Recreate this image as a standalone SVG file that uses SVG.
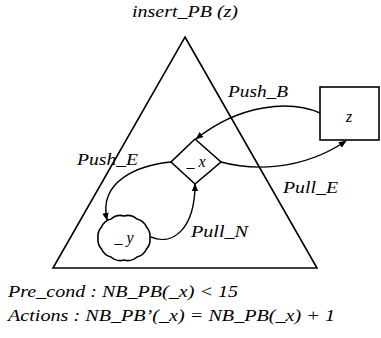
<svg xmlns="http://www.w3.org/2000/svg" width="381" height="338" viewBox="0 0 381 338">
<style>
text{font-family:'Liberation Serif','DejaVu Serif','Times New Roman',serif;font-style:italic;fill:#000}
.lbl{font-size:16px}
.sh{fill:none;stroke:#000;stroke-width:1.6}
.cn{fill:none;stroke:#000;stroke-width:1.4;marker-end:url(#ah)}
</style>
<defs>
<marker id="ah" viewBox="0 0 10 10" refX="9" refY="5" markerWidth="8" markerHeight="8" markerUnits="userSpaceOnUse" orient="auto">
<path d="M0,1 L10,5 L0,9 Z" fill="#000"/>
</marker>
</defs>
<rect width="381" height="338" fill="#fff"/>
<text x="132" y="17" class="lbl" textLength="106" lengthAdjust="spacingAndGlyphs">insert_PB (z)</text>
<g id="triangle"><path class="sh" d="M185,37 L317,268 L53,268 Z"/></g>
<g id="z"><rect class="sh" x="320" y="87" width="59" height="53"/><text x="349" y="122" class="lbl" text-anchor="middle">z</text></g>
<g id="x"><path class="sh" d="M195,139 L221,162 L195,184 L171,162 Z"/><text x="196" y="167" class="lbl" text-anchor="middle">_ x</text></g>
<g id="y"><path class="sh" d="M150,238 A14,14 0 0 1 146.5,249 A14,14 0 0 1 137,257 A14,14 0 0 1 124,260 A14,14 0 0 1 111,257 A14,14 0 0 1 101.5,249 A14,14 0 0 1 98,238 A14,14 0 0 1 101.5,227 A14,14 0 0 1 111,219 A14,14 0 0 1 124,216 A14,14 0 0 1 137,219 A14,14 0 0 1 146.5,227 A14,14 0 0 1 150,238 Z"/><text x="124" y="243" class="lbl" text-anchor="middle">_ y</text></g>
<g id="connectors">
<path class="cn" d="M320,113 C290,100 240,104 196,139"/>
<path class="cn" d="M221,162 C250,170 300,172 346,141"/>
<path class="cn" d="M171,162 C140,165 98,180 107,220"/>
<path class="cn" d="M151,237 C172,246 195,230 195,184"/>
</g>
<text x="228" y="97" class="lbl" textLength="60" lengthAdjust="spacingAndGlyphs">Push_B</text>
<text x="77" y="165" class="lbl" textLength="61" lengthAdjust="spacingAndGlyphs">Push_E</text>
<text x="283" y="193" class="lbl" textLength="55" lengthAdjust="spacingAndGlyphs">Pull_E</text>
<text x="191" y="237" class="lbl" textLength="57" lengthAdjust="spacingAndGlyphs">Pull_N</text>
<text x="8" y="297" font-size="17" textLength="230" lengthAdjust="spacingAndGlyphs">Pre_cond : NB_PB(_x) &lt; 15</text>
<text x="8" y="321" font-size="17" textLength="327" lengthAdjust="spacingAndGlyphs">Actions : NB_PB’(_x) = NB_PB(_x) + 1</text>
</svg>
